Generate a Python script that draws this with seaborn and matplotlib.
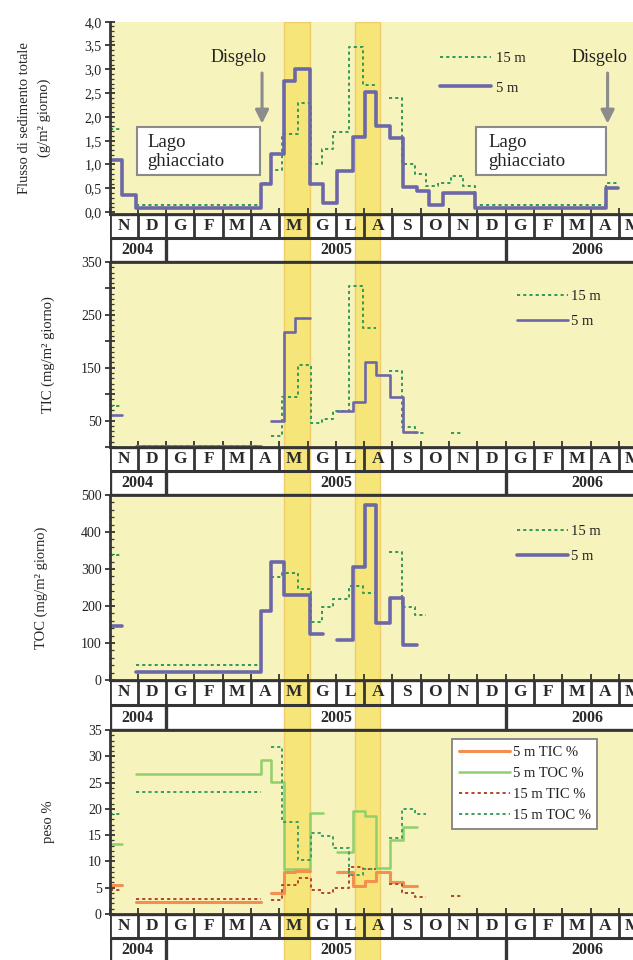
import numpy as np
import pandas as pd
import matplotlib
matplotlib.use("Agg")
import matplotlib.pyplot as plt
import seaborn as sns
from matplotlib.lines import Line2D
from matplotlib.patches import Rectangle
from matplotlib.ticker import MultipleLocator, FuncFormatter

nan = np.nan

# ---- time axis: 0 = 1 November 2004, one unit per month ----
months = ["N", "D", "G", "F", "M", "A", "M", "G", "L", "A",
          "S", "O", "N", "D", "G", "F", "M", "A", "M", "G"]
years = ["2004", "2005", "2006"]
year_edges = [0, 2, 14, 19.8]
bands = [(6.17, 7.09), (8.66, 9.55)]

# ---- 5 m trap: sampling interval edges and values ----
edges_5m = [0, 0.45, 0.92, 5.35, 5.7, 6.15, 6.55, 7.1, 7.55, 8.03, 8.6,
            9.02, 9.43, 9.92, 10.37, 10.85, 11.3, 11.77, 12.9, 17.55, 17.97]
flux_5m = [1.1, 0.35, 0.08, 0.6, 1.22, 2.75, 3.0, 0.6, 0.2, 0.87, 1.57,
           2.53, 1.8, 1.56, 0.52, 0.45, 0.15, 0.4, 0.08, 0.5]
tic_5m = [60, nan, 2, nan, 49, 218, 244, nan, nan, 69, 85,
          160, 136, 95, 28, nan, nan, nan, nan, nan]
toc_5m = [147, nan, 22.5, 187, 318, 231, 231, 124, nan, 108, 305,
          473, 155, 221, 95, nan, nan, nan, nan, nan]
ticpct_5m = [5.6, nan, 2.3, nan, 4.0, 7.9, 8.1, nan, nan, 8.0, 5.4,
             6.2, 7.9, 6.0, 5.4, nan, nan, nan, nan, nan]
tocpct_5m = [13.3, nan, 26.6, 29.3, 25.2, 8.6, 8.6, 19.2, nan, 11.7, 19.6,
             18.7, 8.8, 14.1, 16.6, nan, nan, nan, nan, nan]

# ---- 15 m trap: sampling interval edges and values ----
edges_15m = [0, 0.42, 0.92, 5.35, 5.7, 6.1, 6.65, 7.13, 7.5, 7.9, 8.47, 8.97,
             9.42, 9.88, 10.35, 10.78, 11.2, 11.6, 12.05, 12.5, 12.9, 17.55, 17.97]
flux_15m = [1.75, nan, 0.14, 0.62, 0.88, 1.65, 2.3, 1.0, 1.32, 1.68, 3.47,
            2.67, nan, 2.4, 1.0, 0.8, 0.55, 0.62, 0.75, 0.55, 0.15, 0.62]
tic_15m = [78, nan, 1, nan, 20, 95, 155, 46, 53, 68, 305,
           225, nan, 143, 37, 26, nan, nan, 26, nan, nan, nan]
toc_15m = [338, nan, 40, nan, 278, 290, 246, 158, 198, 218, 254,
           234, nan, 346, 198, 176, nan, nan, nan, nan, nan, nan]
ticpct_15m = [4.5, nan, 2.8, nan, 2.6, 5.6, 6.8, 4.5, 3.9, 5.0, 9.0,
              8.6, nan, 5.8, 4.0, 3.3, nan, nan, 3.5, nan, nan, nan]
tocpct_15m = [19.0, nan, 23.3, nan, 31.8, 17.5, 10.3, 15.5, 14.8, 12.5, 7.5,
              8.5, nan, 14.4, 20.0, 19.0, nan, nan, nan, nan, nan, nan]

# ---- style ----
sns.set_theme(style="ticks")
plt.rcParams["font.family"] = ["Liberation Serif", "DejaVu Serif"]
plt.rcParams["text.color"] = "#222222"

BG = "#f6f3bd"
BAND = "#f6e67a"
BAND_EDGE = "#f1cc6a"
AX_COL = "#353535"
C5 = "#6c68a8"
C15 = "#2f9a58"
C_TIC5 = "#f39050"
C_TOC5 = "#8fd06a"
C_TIC15 = "#b0472c"
C_TOC15 = "#3a9e66"
DOT = (0, (1.6, 1.6))


def step_frame(edges, values):
    """Long table of step-line vertices, one run per unbroken block."""
    rows, run, started = [], 0, False
    for i, v in enumerate(values):
        if np.isnan(v):
            if started:
                run += 1
                started = False
            continue
        rows.append((edges[i], v, run))
        rows.append((edges[i + 1], v, run))
        started = True
    return pd.DataFrame(rows, columns=["x", "y", "run"])


def draw_steps(ax, edges, values, **kw):
    df = step_frame(edges, values)
    sns.lineplot(data=df, x="x", y="y", units="run", estimator=None,
                 sort=False, ax=ax, legend=False, **kw)


W, H = 633, 960
X0 = 109.5
MONTH_PX = 28.3
XMAX = 19.8
AX_W = XMAX * MONTH_PX / W

panels_px = [(21.7, 214), (262, 447), (495, 680), (730, 914)]
strips_px = [(214, 262), (447, 495), (680, 730), (914, 962)]

fig = plt.figure(figsize=(W / 100, H / 100), dpi=100)
fig.patch.set_facecolor("white")


def add_ax(top, bottom):
    return fig.add_axes([X0 / W, 1 - bottom / H, AX_W, (bottom - top) / H])


axes = [add_ax(*p) for p in panels_px]
strips = [add_ax(*s) for s in strips_px]

comma = FuncFormatter(lambda v, p: f"{v:.1f}".replace(".", ","))
odd50 = FuncFormatter(lambda v, p: f"{int(v)}" if int(round(v)) % 100 == 50 else "")

cfg = [
    dict(ylim=(-0.04, 4.0), major=0.5, minor=0.1, fmt=comma,
         label="Flusso di sedimento totale\n(g/m² giorno)", lx=-0.105),
    dict(ylim=(0, 350), major=50, minor=10, fmt=odd50,
         label="TIC (mg/m² giorno)", lx=-0.097),
    dict(ylim=(0, 500), major=100, minor=20, fmt=None,
         label="TOC (mg/m² giorno)", lx=-0.11),
    dict(ylim=(0, 35), major=5, minor=1, fmt=None,
         label="peso %", lx=-0.097),
]

for i, (ax, c) in enumerate(zip(axes, cfg)):
    ax.set_facecolor(BG)
    ax.set_xlim(0, XMAX)
    ax.set_ylim(*c["ylim"])
    for a, b in bands:
        ax.axvspan(a, b, facecolor=BAND, edgecolor=BAND_EDGE, lw=1.0, zorder=0.5)
    ax.yaxis.set_major_locator(MultipleLocator(c["major"]))
    ax.yaxis.set_minor_locator(MultipleLocator(c["minor"]))
    if c["fmt"] is not None:
        ax.yaxis.set_major_formatter(c["fmt"])
    ax.xaxis.set_major_locator(MultipleLocator(1))
    ax.tick_params(axis="y", which="major", direction="inout", length=7,
                   width=1.3, color=AX_COL, labelsize=10, pad=2, labelcolor="#222")
    ax.tick_params(axis="y", which="minor", direction="in", length=3,
                   width=0.9, color=AX_COL)
    ax.tick_params(axis="x", which="major", direction="in", length=4,
                   width=1.3, color=AX_COL, labelbottom=False)
    ax.set_xlabel("")
    ax.set_ylabel(c["label"], fontsize=10.5, linespacing=1.6)
    ax.yaxis.set_label_coords(c["lx"], 0.5)
    for s in ("right",):
        ax.spines[s].set_visible(False)
    ax.spines["top"].set_visible(i > 0)
    for s in ("left", "bottom", "top"):
        ax.spines[s].set_color(AX_COL)
        ax.spines[s].set_linewidth(2.0)

# ---- panel 1: total sediment flux ----
ax = axes[0]
draw_steps(ax, edges_15m, flux_15m, color=C15, lw=1.4, linestyle=DOT)
draw_steps(ax, edges_5m, flux_5m, color=C5, lw=2.6)
ax.add_patch(Rectangle((0.97, 0.77), 4.35, 1.01, facecolor="white",
                       edgecolor="#8a8a8a", lw=1.5, zorder=3))
ax.add_patch(Rectangle((12.95, 0.77), 4.58, 1.01, facecolor="white",
                       edgecolor="#8a8a8a", lw=1.5, zorder=3))
ax.text(1.33, 1.27, "Lago\nghiacciato", fontsize=13.5, ha="left", va="center",
        linespacing=1.15, zorder=4)
ax.text(13.4, 1.27, "Lago\nghiacciato", fontsize=13.5, ha="left", va="center",
        linespacing=1.15, zorder=4)
arrow = dict(arrowstyle="-|>", color="#8c8c8c", lw=2.2, mutation_scale=20)
ax.annotate("", xy=(5.39, 1.8), xytext=(5.39, 2.98), arrowprops=arrow, zorder=4)
ax.annotate("", xy=(17.6, 1.8), xytext=(17.6, 2.98), arrowprops=arrow, zorder=4)
ax.text(5.55, 3.24, "Disgelo", fontsize=13, ha="right", va="center")
ax.text(17.33, 3.24, "Disgelo", fontsize=13, ha="center", va="center")
ax.legend(handles=[Line2D([], [], color=C15, lw=1.4, linestyle=DOT),
                   Line2D([], [], color=C5, lw=2.6)],
          labels=["15 m", "5 m"], loc="upper left", bbox_to_anchor=(0.59, 0.842),
          frameon=False, fontsize=10.5, handlelength=3.5, handletextpad=0.3,
          labelspacing=1.1, borderpad=0, borderaxespad=0)

# ---- panel 2: TIC flux ----
ax = axes[1]
draw_steps(ax, edges_15m, tic_15m, color=C15, lw=1.4, linestyle=DOT)
draw_steps(ax, edges_5m, tic_5m, color=C5, lw=1.9)
ax.legend(handles=[Line2D([], [], color=C15, lw=1.4, linestyle=DOT),
                   Line2D([], [], color=C5, lw=1.9)],
          labels=["15 m", "5 m"], loc="upper left", bbox_to_anchor=(0.728, 0.849),
          frameon=False, fontsize=10.5, handlelength=3.5, handletextpad=0.2,
          labelspacing=0.8, borderpad=0, borderaxespad=0)

# ---- panel 3: TOC flux ----
ax = axes[2]
draw_steps(ax, edges_15m, toc_15m, color=C15, lw=1.4, linestyle=DOT)
draw_steps(ax, edges_5m, toc_5m, color=C5, lw=2.6)
ax.legend(handles=[Line2D([], [], color=C15, lw=1.4, linestyle=DOT),
                   Line2D([], [], color=C5, lw=2.6)],
          labels=["15 m", "5 m"], loc="upper left", bbox_to_anchor=(0.728, 0.839),
          frameon=False, fontsize=10.5, handlelength=3.5, handletextpad=0.2,
          labelspacing=0.8, borderpad=0, borderaxespad=0)

# ---- panel 4: weight percentages ----
ax = axes[3]
draw_steps(ax, edges_5m, tocpct_5m, color=C_TOC5, lw=1.8)
draw_steps(ax, edges_5m, ticpct_5m, color=C_TIC5, lw=2.2)
draw_steps(ax, edges_15m, ticpct_15m, color=C_TIC15, lw=1.4, linestyle=DOT)
draw_steps(ax, edges_15m, tocpct_15m, color=C_TOC15, lw=1.4, linestyle=DOT)
leg = ax.legend(handles=[Line2D([], [], color=C_TIC5, lw=2.2),
                         Line2D([], [], color=C_TOC5, lw=1.8),
                         Line2D([], [], color=C_TIC15, lw=1.4, linestyle=DOT),
                         Line2D([], [], color=C_TOC15, lw=1.4, linestyle=DOT)],
                labels=["5 m TIC %", "5 m TOC %", "15 m TIC %", "15 m TOC %"],
                loc="upper left", bbox_to_anchor=(0.6116, 0.951), frameon=True,
                fancybox=False, facecolor="white", edgecolor="#8a8a8a",
                framealpha=1, fontsize=10.5, handlelength=3.5, handletextpad=0.2,
                labelspacing=0.55, borderpad=0.45, borderaxespad=0)
leg.get_frame().set_linewidth(1.4)

# ---- month / year strips ----
for s in strips:
    s.set_xlim(0, XMAX)
    s.set_ylim(0, 2)
    s.set_facecolor("white")
    s.set_xticks([])
    s.set_yticks([])
    for sp in s.spines.values():
        sp.set_visible(False)
    for a, b in bands:
        s.axvspan(a, b, facecolor=BAND, edgecolor=BAND_EDGE, lw=1.0, zorder=0.5)
    s.axhline(2, color=AX_COL, lw=2.4, zorder=3)
    s.axhline(1, color=AX_COL, lw=2.2, zorder=3)
    s.axhline(0, color=AX_COL, lw=2.4, zorder=3)
    s.vlines(np.arange(0, len(months)), 1, 2, color=AX_COL, lw=2.0, zorder=3)
    s.vlines(year_edges[:-1], 0, 1, color=AX_COL, lw=2.4, zorder=3)
    for k, m in enumerate(months):
        s.text(k + 0.5, 1.5, m, ha="center", va="center", fontsize=12.5,
               fontweight="bold", color="#2a2a2a", zorder=4)
    for y, a, b in zip(years, year_edges[:-1], year_edges[1:]):
        s.text((a + b) / 2, 0.5, y, ha="center", va="center", fontsize=11.5,
               fontweight="bold", color="#2a2a2a", zorder=4)

fig.savefig("out.png", dpi=100, facecolor="white")
